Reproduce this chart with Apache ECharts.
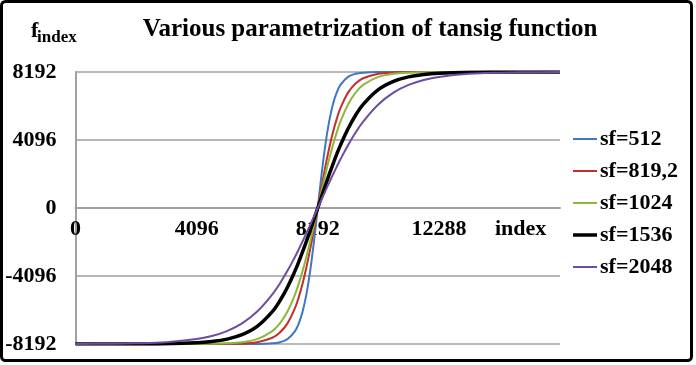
<!DOCTYPE html>
<html><head><meta charset="utf-8">
<script src="https://cdn.jsdelivr.net/npm/echarts@6/dist/echarts.min.js"></script>
<style>html,body{margin:0;padding:0;background:#fff}#c{width:696px;height:365px}</style>
</head><body><div id="c"></div>
<script>
var xIndex = [0,1024,2048,3072,4096,4608,5120,5632,6144,6656,6912,7168,7424,7552,7680,7808,7936,8064,8192,8320,8448,8576,8704,8832,8960,9216,9472,9728,10240,10752,11264,11776,12288,13312,14336,15360,16384];
var sf512 = [-8192,-8192,-8192,-8192,-8192,-8192,-8192,-8191,-8187,-8151,-8082,-7897,-7415,-6949,-6239,-5203,-3786,-2006,0,2006,3786,5203,6239,6949,7415,7897,8082,8151,8187,8191,8192,8192,8192,8192,8192,8192,8192];
var sf819 = [-8192,-8192,-8192,-8192,-8191,-8189,-8183,-8160,-8082,-7815,-7502,-6949,-6013,-5353,-4543,-3581,-2480,-1270,0,1270,2480,3581,4543,5353,6013,6949,7502,7815,8082,8160,8183,8189,8191,8192,8192,8192,8192];
var sf1024 = [-8192,-8192,-8192,-8191,-8187,-8177,-8151,-8082,-7897,-7415,-6949,-6239,-5203,-4543,-3786,-2936,-2006,-1019,0,1019,2006,2936,3786,4543,5203,6239,6949,7415,7897,8082,8151,8177,8187,8191,8192,8192,8192];
var sf1536 = [-8192,-8191,-8187,-8171,-8113,-8039,-7897,-7628,-7128,-6239,-5589,-4774,-3786,-3229,-2634,-2006,-1353,-681,0,681,1353,2006,2634,3229,3786,4774,5589,6239,7128,7628,7897,8039,8113,8171,8187,8191,8192];
var sf2048 = [-8187,-8177,-8151,-8082,-7897,-7712,-7415,-6949,-6239,-5203,-4543,-3786,-2936,-2480,-2006,-1518,-1019,-511,0,511,1019,1518,2006,2480,2936,3786,4543,5203,6239,6949,7415,7712,7897,8082,8151,8177,8187];
var seriesNames = ['sf=512','sf=819,2','sf=1024','sf=1536','sf=2048'];
var seriesData = [sf512, sf819, sf1024, sf1536, sf2048];
var colors = ['#3F78C0','#C0302C','#8DB83C','#000000','#6E4C9E'];
var widths = [2,2,2,3.5,2];
var xTicks = {min:0, max:16384, interval:4096};
var yTicks = {min:-8192, max:8192, interval:4096};

var FONT = '"Liberation Serif","Times New Roman",serif';
function pairs(arr){ return arr.map(function(v,i){ return [xIndex[i], v]; }); }
function plain(v){ return String(v); }

var chart = echarts.init(document.getElementById('c'), null, {renderer:'canvas'});
chart.setOption({
  animation:false,
  backgroundColor:'#fff',
  title:[
    {text:'Various parametrization of tansig function', left:370, top:17, textAlign:'center', padding:0,
     textStyle:{fontFamily:FONT, fontWeight:'bold', fontSize:25, color:'#000'}},
    {text:'f', left:31, top:20, padding:0, textStyle:{fontFamily:FONT, fontWeight:'bold', fontSize:22, color:'#000'}},
    {text:'index', left:37, top:29, padding:0, textStyle:{fontFamily:FONT, fontWeight:'bold', fontSize:17, color:'#000'}}
  ],
  graphic:[{type:'rect', shape:{x:1.5,y:1.5,width:690,height:359,r:4}, style:{fill:null, stroke:'#000', lineWidth:3}, silent:true}],
  legend:{orient:'vertical', left:568, top:123, itemWidth:24, itemHeight:14, itemGap:10,
    textStyle:{fontFamily:FONT, fontWeight:'bold', fontSize:22, color:'#000', padding:[0,0,0,-2]},
    data: seriesNames.map(function(n,i){
      return {name:n, icon: widths[i] > 2 ? 'path://M0,0h24v3.5h-24z' : 'path://M0,0h24v2h-24z'};
    })},
  grid:{left:75.5, right:136, top:72, bottom:21, containLabel:false, outerBoundsMode:'none'},
  xAxis:{type:'value', min:xTicks.min, max:xTicks.max, interval:xTicks.interval,
    offset:-136,
    name:'index', nameLocation:'end', nameGap:-65,
    nameTextStyle:{fontFamily:FONT, fontWeight:'bold', fontSize:22, color:'#000', align:'left', verticalAlign:'top', padding:[10,0,0,0]},
    axisLine:{onZero:false, lineStyle:{color:'#A0A0A0', width:2}},
    axisTick:{show:false},
    splitLine:{show:false},
    axisLabel:{showMaxLabel:false, margin:10, formatter:plain, fontFamily:FONT, fontWeight:'bold', fontSize:22, color:'#000'}},
  yAxis:{type:'value', min:yTicks.min, max:yTicks.max, interval:yTicks.interval,
    axisLine:{show:true, onZero:false, lineStyle:{color:'#A0A0A0', width:2}},
    axisTick:{show:false},
    splitLine:{lineStyle:{color:'#A0A0A0', width:1.5}},
    axisLabel:{margin:19, formatter:plain, fontFamily:FONT, fontWeight:'bold', fontSize:22, color:'#000'}},
  series: seriesData.map(function(d,i){
    return {name:seriesNames[i], type:'line', data:pairs(d), symbol:'none', smooth:0.4,
      color:colors[i], lineStyle:{color:colors[i], width:widths[i]}, z:2+i};
  })
});
</script></body></html>
